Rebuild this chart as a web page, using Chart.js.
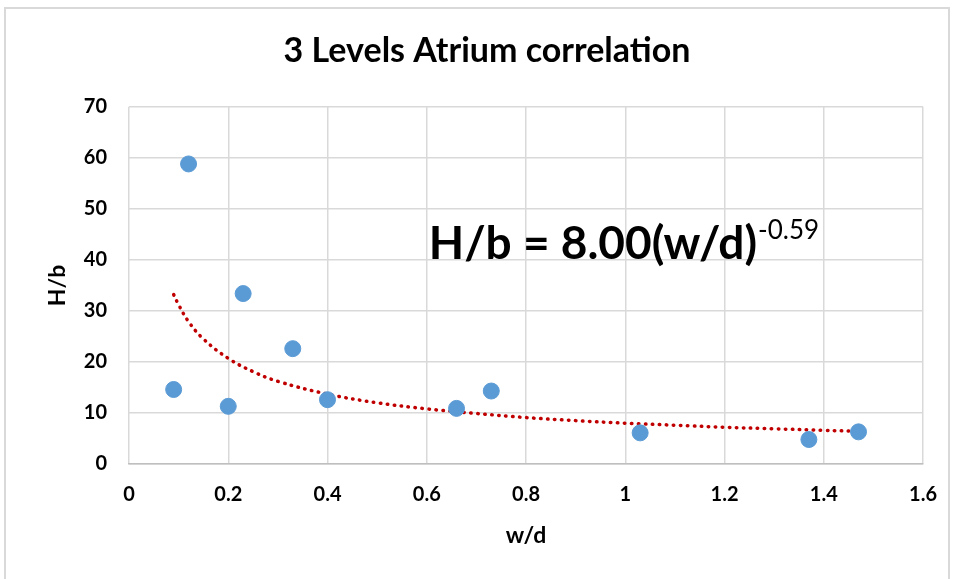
<!DOCTYPE html>
<html lang="en">
<head>
    <meta charset="UTF-8">
    <title>3 Levels Atrium correlation</title>
    <script src="https://cdn.jsdelivr.net/npm/chart.js"></script>
    <style>
        * { margin: 0; padding: 0; box-sizing: border-box; }
        body { background: white; width: 956px; height: 579px; overflow: hidden; }
        .frame {
            position: absolute;
            left: 4px; top: 7px;
            width: 946px; height: 572px;
            border: 2px solid #d9d9d9;
            border-bottom: none;
        }
        .chart-box { position: absolute; left: 0; top: 0; width: 956px; height: 579px; }
    </style>
</head>
<body>
    <div class="frame"></div>
    <div class="chart-box"><canvas id="atriumChart"></canvas></div>

    <script>
        // measured points (w/d, H/b)
        const wdValues = [0.09, 0.12, 0.20, 0.23, 0.33, 0.40, 0.66, 0.73, 1.03, 1.37, 1.47];
        const hbValues = [14.6, 58.8, 11.3, 33.4, 22.6, 12.6, 10.9, 14.3, 6.1, 4.8, 6.3];

        // power trendline
        const trendX = [0.09, 0.10, 0.12, 0.15, 0.20, 0.25, 0.30, 0.40, 0.50, 0.60, 0.70, 0.80, 0.90, 1.00, 1.10, 1.20, 1.30, 1.40, 1.47];
        const trendY = [33.2, 31.2, 27.9, 24.5, 20.7, 18.1, 16.2, 13.7, 12.0, 10.8, 9.9, 9.1, 8.5, 8.0, 7.6, 7.2, 6.9, 6.6, 6.4];

        const xTicks = [0, 0.2, 0.4, 0.6, 0.8, 1, 1.2, 1.4, 1.6];
        const yTicks = [0, 10, 20, 30, 40, 50, 60, 70];

        const fontFamily = "Lato, 'Liberation Sans', sans-serif";
        Chart.defaults.font.family = fontFamily;
        Chart.defaults.color = '#000';

        // equation label placed in data coordinates
        const equationPlugin = {
            id: 'equation',
            afterDatasetsDraw(chart) {
                const ctx = chart.ctx;
                const x = chart.scales.x.getPixelForValue(0.604);
                const y = chart.scales.y.getPixelForValue(40.2);
                ctx.save();
                ctx.fillStyle = '#000';
                ctx.textBaseline = 'alphabetic';
                ctx.font = 'bold 46px ' + fontFamily;
                const main = 'H/b = 8.00(w/d)';
                ctx.fillText(main, x, y);
                const w = ctx.measureText(main).width;
                ctx.font = '26px ' + fontFamily;
                ctx.fillText('-0.59', x + w + 1, y - 20);
                ctx.restore();
            }
        };

        new Chart(document.getElementById('atriumChart'), {
            type: 'scatter',
            data: {
                datasets: [{
                    label: 'H/b',
                    data: wdValues.map((v, i) => ({ x: v, y: hbValues[i] })),
                    backgroundColor: '#5b9bd5',
                    borderColor: '#5b9bd5',
                    pointRadius: 8,
                    pointHoverRadius: 8,
                    order: 1
                }, {
                    label: 'Power trend',
                    type: 'line',
                    data: trendX.map((v, i) => ({ x: v, y: trendY[i] })),
                    borderColor: '#c00000',
                    borderWidth: 3.5,
                    borderDash: [0.5, 6.5],
                    borderCapStyle: 'round',
                    pointRadius: 0,
                    tension: 0.4,
                    fill: false,
                    order: 2
                }]
            },
            options: {
                responsive: true,
                maintainAspectRatio: false,
                animation: false,
                layout: { padding: { left: 49, right: 31, top: 0, bottom: 0 } },
                plugins: {
                    legend: { display: false },
                    tooltip: { enabled: false },
                    title: {
                        display: true,
                        text: '3 Levels Atrium correlation',
                        font: { size: 34, weight: 'bold' },
                        color: '#000',
                        padding: { top: 31, bottom: 35 }
                    }
                },
                scales: {
                    x: {
                        type: 'linear',
                        min: 0,
                        max: 1.6,
                        afterBuildTicks: (axis) => { axis.ticks = xTicks.map(v => ({ value: v })); },
                        grid: { color: '#d9d9d9', lineWidth: 1.5, drawTicks: false },
                        border: { color: '#bfbfbf', width: 1.5 },
                        ticks: {
                            padding: 19,
                            font: { size: 20, weight: 'bold' },
                            color: '#000',
                            callback: (v) => String(v)
                        },
                        title: {
                            display: true,
                            text: 'w/d',
                            font: { size: 23, weight: 'bold' },
                            color: '#000',
                            padding: { top: 0, bottom: 30 }
                        },
                        afterFit: (axis) => { axis.height = 579 - 464; }
                    },
                    y: {
                        type: 'linear',
                        min: 0,
                        max: 70,
                        afterBuildTicks: (axis) => { axis.ticks = yTicks.map(v => ({ value: v })); },
                        grid: { color: '#d9d9d9', lineWidth: 1.5, drawTicks: false },
                        border: { display: false },
                        ticks: {
                            padding: 22,
                            font: { size: 20, weight: 'bold' },
                            color: '#000'
                        },
                        title: {
                            display: true,
                            text: 'H/b',
                            font: { size: 23, weight: 'bold' },
                            color: '#000',
                            padding: { top: -5, bottom: 0 }
                        },
                        afterFit: (axis) => { axis.width = 129 - 49; }
                    }
                }
            },
            plugins: [equationPlugin]
        });
    </script>
</body>
</html>
